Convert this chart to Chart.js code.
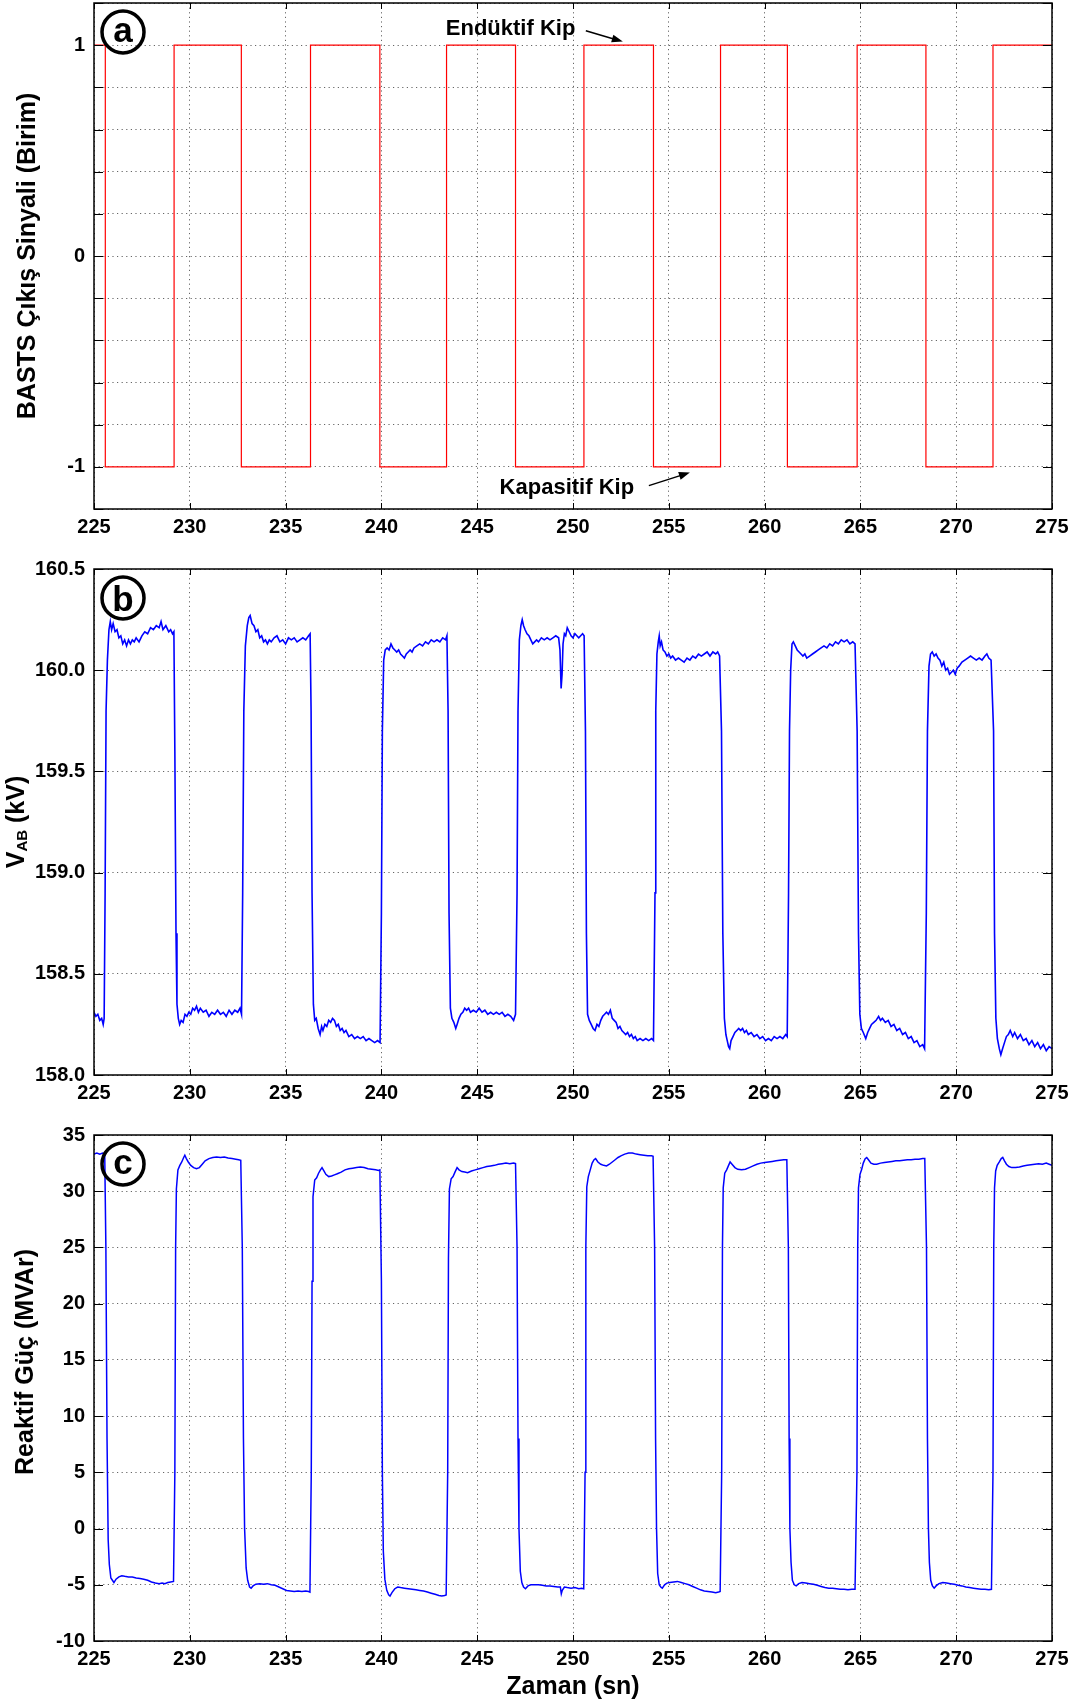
<!DOCTYPE html>
<html lang="tr">
<head>
<meta charset="utf-8">
<title>BASTS çıkış sinyali, V_AB ve reaktif güç</title>
<script src="https://cdn.jsdelivr.net/npm/chart.js@4.4.1/dist/chart.umd.min.js"></script>
<style>
  html, body { margin: 0; padding: 0; background: #fff; }
  #sayfa { position: relative; width: 1079px; height: 1708px; }
  #sayfa canvas { position: absolute; left: 0; }
</style>
</head>
<body>
<div id="sayfa">
  <canvas id="grafikA" width="1079" height="545" style="top:0px"></canvas>
  <canvas id="grafikB" width="1079" height="565" style="top:545px"></canvas>
  <canvas id="grafikC" width="1079" height="598" style="top:1110px"></canvas>
</div>
<script>
// BASTS kip anahtarlama anları (sn) ve her andan itibaren geçerli seviye
const kipZamanlari = [225, 225.59, 229.18, 232.69, 236.30, 239.92, 243.40, 247.00,
  250.57, 254.20, 257.70, 261.19, 264.83, 268.42, 271.92, 275];
const kipSeviyeleri = [1, -1, 1, -1, 1, -1, 1, -1, 1, -1, 1, -1, 1, -1, 1, 1];

// V_AB gerilimi (kV)
const zamanV = [
  225.00, 225.10, 225.20, 225.30, 225.40, 225.48, 225.53,
  225.58, 225.63, 225.70, 225.78, 225.85, 225.92, 226.00, 226.10, 226.20, 226.30, 226.40, 226.50, 226.60, 226.70, 226.80, 226.90, 227.00, 227.10, 227.20, 227.35, 227.50, 227.65, 227.80, 227.95, 228.10, 228.25, 228.40, 228.50, 228.60, 228.75, 228.90, 229.00, 229.10, 229.17,
  229.22, 229.28, 229.33, 229.40, 229.47, 229.55, 229.65, 229.75, 229.85, 229.95, 230.05, 230.15, 230.25, 230.35, 230.45, 230.55, 230.70, 230.85, 231.00, 231.15, 231.30, 231.45, 231.60, 231.75, 231.90, 232.05, 232.20, 232.35, 232.50, 232.62, 232.70,
  232.76, 232.82, 232.90, 233.00, 233.08, 233.15, 233.25, 233.35, 233.45, 233.55, 233.65, 233.75, 233.85, 233.95, 234.05, 234.15, 234.25, 234.40, 234.55, 234.70, 234.85, 235.00, 235.15, 235.30, 235.45, 235.60, 235.75, 235.90, 236.05, 236.20, 236.28,
  236.33, 236.38, 236.45, 236.52, 236.60, 236.70, 236.80, 236.88, 236.95, 237.05, 237.15, 237.25, 237.35, 237.45, 237.55, 237.65, 237.75, 237.85, 237.95, 238.05, 238.15, 238.30, 238.45, 238.60, 238.75, 238.90, 239.05, 239.20, 239.35, 239.50, 239.65, 239.80, 239.93,
  240.00, 240.05, 240.12, 240.20, 240.30, 240.40, 240.50, 240.60, 240.70, 240.80, 240.90, 241.00, 241.10, 241.20, 241.30, 241.40, 241.50, 241.60, 241.70, 241.85, 242.00, 242.15, 242.30, 242.45, 242.60, 242.75, 242.90, 243.05, 243.20, 243.35, 243.42,
  243.48, 243.53, 243.60, 243.68, 243.78, 243.88, 243.95, 244.05, 244.15, 244.25, 244.35, 244.45, 244.55, 244.65, 244.80, 244.95, 245.10, 245.25, 245.40, 245.55, 245.70, 245.85, 246.00, 246.15, 246.30, 246.45, 246.60, 246.75, 246.90, 247.00,
  247.08, 247.13, 247.20, 247.28, 247.35, 247.42, 247.50, 247.60, 247.70, 247.80, 247.90, 248.00, 248.10, 248.20, 248.35, 248.50, 248.65, 248.80, 248.95, 249.10, 249.25, 249.32, 249.38, 249.43, 249.48, 249.55, 249.62, 249.70, 249.80, 249.90, 250.00, 250.10, 250.20, 250.30, 250.40, 250.50, 250.58,
  250.65, 250.70, 250.76, 250.85, 250.95, 251.05, 251.15, 251.25, 251.35, 251.45, 251.55, 251.65, 251.75, 251.85, 251.95, 252.05, 252.15, 252.25, 252.35, 252.45, 252.55, 252.65, 252.75, 252.85, 252.95, 253.05, 253.15, 253.25, 253.35, 253.50, 253.65, 253.80, 253.95, 254.10, 254.20,
  254.28, 254.32, 254.38, 254.45, 254.50, 254.55, 254.62, 254.70, 254.80, 254.90, 255.00, 255.10, 255.20, 255.35, 255.50, 255.65, 255.80, 255.95, 256.10, 256.25, 256.40, 256.55, 256.70, 256.85, 257.00, 257.15, 257.30, 257.45, 257.55, 257.65,
  257.75, 257.82, 257.90, 257.98, 258.05, 258.12, 258.18, 258.25, 258.35, 258.45, 258.55, 258.65, 258.75, 258.85, 258.95, 259.05, 259.15, 259.30, 259.45, 259.60, 259.75, 259.90, 260.05, 260.20, 260.35, 260.50, 260.65, 260.80, 260.95, 261.10, 261.18,
  261.25, 261.30, 261.36, 261.43, 261.50, 261.60, 261.70, 261.80, 261.90, 262.00, 262.10, 262.20, 262.35, 262.50, 262.65, 262.80, 262.95, 263.10, 263.25, 263.40, 263.55, 263.70, 263.85, 264.00, 264.15, 264.30, 264.45, 264.60, 264.72,
  264.83, 264.90, 264.97, 265.05, 265.15, 265.28, 265.38, 265.48, 265.58, 265.70, 265.82, 265.95, 266.05, 266.15, 266.30, 266.45, 266.60, 266.75, 266.90, 267.05, 267.20, 267.35, 267.50, 267.65, 267.80, 267.95, 268.10, 268.25, 268.35,
  268.44, 268.50, 268.58, 268.66, 268.75, 268.85, 268.95, 269.05, 269.15, 269.25, 269.35, 269.45, 269.55, 269.65, 269.75, 269.85, 269.95, 270.05, 270.15, 270.30, 270.45, 270.60, 270.75, 270.90, 271.05, 271.20, 271.35, 271.50, 271.60, 271.70, 271.82,
  271.95, 272.00, 272.07, 272.15, 272.25, 272.33, 272.42, 272.52, 272.62, 272.72, 272.82, 272.95, 273.05, 273.20, 273.35, 273.50, 273.65, 273.80, 273.95, 274.10, 274.25, 274.40, 274.55, 274.70, 274.85, 275.00
];
const gerilimAB = [
  158.31, 158.29, 158.30, 158.27, 158.28, 158.25, 158.28,
  158.9, 159.8, 160.05, 160.20, 160.24, 160.20, 160.23, 160.19, 160.20, 160.16, 160.17, 160.13, 160.15, 160.12, 160.15, 160.13, 160.15, 160.14, 160.16, 160.14, 160.17, 160.19, 160.18, 160.21, 160.20, 160.22, 160.21, 160.24, 160.20, 160.22, 160.19, 160.20, 160.18, 160.19,
  159.6, 158.7, 158.35, 158.28, 158.25, 158.27, 158.26, 158.30, 158.29, 158.31, 158.30, 158.33, 158.32, 158.34, 158.31, 158.33, 158.31, 158.32, 158.29, 158.31, 158.30, 158.32, 158.30, 158.31, 158.29, 158.32, 158.30, 158.32, 158.31, 158.33, 158.30,
  158.9, 159.8, 160.12, 160.22, 160.26, 160.27, 160.23, 160.22, 160.19, 160.20, 160.16, 160.17, 160.14, 160.15, 160.13, 160.15, 160.14, 160.16, 160.17, 160.14, 160.15, 160.13, 160.16, 160.15, 160.16, 160.14, 160.15, 160.16, 160.15, 160.17, 160.18,
  159.8, 158.9, 158.35, 158.27, 158.28, 158.23, 158.20, 158.24, 158.22, 158.25, 158.24, 158.27, 158.26, 158.28, 158.27, 158.24, 158.25, 158.22, 158.23, 158.21, 158.22, 158.19, 158.20, 158.18, 158.19, 158.18, 158.19, 158.17, 158.18, 158.17, 158.16, 158.17, 158.16,
  158.8, 159.7, 160.05, 160.10, 160.11, 160.10, 160.13, 160.11, 160.10, 160.09, 160.10, 160.08, 160.07, 160.06, 160.08, 160.09, 160.10, 160.09, 160.11, 160.12, 160.13, 160.12, 160.14, 160.13, 160.15, 160.14, 160.15, 160.14, 160.16, 160.15, 160.17,
  159.8, 158.8, 158.33, 158.28, 158.26, 158.23, 158.25, 158.28, 158.30, 158.31, 158.33, 158.32, 158.33, 158.31, 158.32, 158.31, 158.33, 158.31, 158.32, 158.30, 158.31, 158.30, 158.31, 158.30, 158.31, 158.29, 158.30, 158.29, 158.27, 158.30,
  158.9, 159.8, 160.15, 160.22, 160.25, 160.22, 160.20, 160.18, 160.17, 160.15, 160.13, 160.14, 160.15, 160.14, 160.16, 160.15, 160.16, 160.15, 160.16, 160.17, 160.16, 160.10, 159.91, 159.98, 160.13, 160.18, 160.17, 160.21, 160.19, 160.17, 160.16, 160.18, 160.17, 160.16, 160.17, 160.18, 160.17,
  159.7, 158.7, 158.30, 158.27, 158.25, 158.23, 158.22, 158.25, 158.24, 158.27, 158.29, 158.30, 158.31, 158.30, 158.32, 158.28, 158.27, 158.26, 158.23, 158.24, 158.22, 158.21, 158.20, 158.21, 158.19, 158.20, 158.18, 158.19, 158.17, 158.18, 158.17, 158.18, 158.17, 158.18, 158.17,
  158.9, 159.8, 160.08, 160.14, 160.17, 160.12, 160.14, 160.10, 160.09, 160.07, 160.08, 160.06, 160.07, 160.05, 160.06, 160.05, 160.04, 160.06, 160.05, 160.07, 160.06, 160.08, 160.07, 160.08, 160.09, 160.07, 160.09, 160.08, 160.09, 160.07,
  159.7, 158.7, 158.28, 158.20, 158.17, 158.14, 158.13, 158.17, 158.19, 158.21, 158.22, 158.23, 158.22, 158.23, 158.21, 158.22, 158.20, 158.21, 158.19, 158.20, 158.18, 158.19, 158.17, 158.18, 158.17, 158.19, 158.18, 158.19, 158.18, 158.20, 158.19,
  158.9, 159.7, 160.0, 160.13, 160.14, 160.12, 160.10, 160.09, 160.08, 160.07, 160.08, 160.06, 160.07, 160.08, 160.09, 160.10, 160.11, 160.12, 160.11, 160.13, 160.12, 160.14, 160.13, 160.15, 160.14, 160.15, 160.13, 160.14, 160.13,
  159.7, 158.7, 158.30, 158.23, 158.21, 158.18, 158.21, 158.23, 158.25, 158.26, 158.27, 158.29, 158.27, 158.28, 158.26, 158.27, 158.24, 158.25, 158.22, 158.23, 158.20, 158.21, 158.18, 158.19, 158.16, 158.17, 158.14, 158.15, 158.13,
  158.8, 159.7, 160.02, 160.08, 160.09, 160.07, 160.08, 160.06, 160.05, 160.02, 160.04, 160.00, 160.01, 159.98, 159.99, 160.00, 159.98, 160.01, 160.02, 160.04, 160.05, 160.06, 160.07, 160.06, 160.05, 160.06, 160.05, 160.07, 160.08, 160.06, 160.05,
  159.7, 158.7, 158.28, 158.18, 158.13, 158.10, 158.13, 158.16, 158.19, 158.20, 158.22, 158.19, 158.21, 158.18, 158.20, 158.17, 158.18, 158.15, 158.17, 158.14, 158.16, 158.13, 158.15, 158.12, 158.14, 158.13
];

// Reaktif güç (MVAr)
const zamanQ = [
  225.00, 225.15, 225.30, 225.45, 225.56,
  225.62, 225.68, 225.74, 225.80, 225.88, 225.96, 226.04, 226.15, 226.30, 226.45, 226.60, 226.80, 227.00, 227.20, 227.40, 227.60, 227.80, 228.00, 228.20, 228.40, 228.55, 228.70, 228.85, 229.00, 229.15,
  229.22, 229.26, 229.30, 229.38, 229.48, 229.58, 229.68, 229.74, 229.82, 229.92, 230.05, 230.20, 230.35, 230.50, 230.65, 230.80, 231.00, 231.20, 231.40, 231.60, 231.80, 232.00, 232.20, 232.40, 232.55, 232.66,
  232.74, 232.80, 232.86, 232.94, 233.02, 233.12, 233.20, 233.30, 233.45, 233.65, 233.85, 234.05, 234.25, 234.45, 234.65, 234.85, 235.05, 235.25, 235.45, 235.65, 235.85, 236.05, 236.20, 236.27,
  236.34, 236.38, 236.43, 236.52, 236.62, 236.72, 236.82, 236.90, 237.00, 237.10, 237.25, 237.40, 237.55, 237.70, 237.90, 238.10, 238.30, 238.50, 238.70, 238.90, 239.10, 239.30, 239.50, 239.70, 239.85, 239.92,
  240.00, 240.05, 240.10, 240.18, 240.28, 240.38, 240.45, 240.55, 240.70, 240.85, 241.00, 241.20, 241.40, 241.60, 241.80, 242.00, 242.20, 242.40, 242.60, 242.80, 243.00, 243.15, 243.30, 243.38,
  243.46, 243.50, 243.55, 243.64, 243.74, 243.84, 243.95, 244.05, 244.20, 244.35, 244.50, 244.70, 244.90, 245.10, 245.30, 245.50, 245.70, 245.90, 246.10, 246.30, 246.50, 246.70, 246.90, 247.00,
  247.08, 247.13, 247.18, 247.25, 247.33, 247.42, 247.52, 247.65, 247.80, 248.00, 248.20, 248.40, 248.60, 248.80, 249.00, 249.20, 249.34, 249.39, 249.44, 249.55, 249.70, 249.90, 250.10, 250.30, 250.45, 250.56,
  250.63, 250.67, 250.72, 250.80, 250.90, 251.00, 251.10, 251.18, 251.30, 251.45, 251.60, 251.75, 251.90, 252.05, 252.20, 252.35, 252.50, 252.70, 252.90, 253.10, 253.30, 253.50, 253.70, 253.90, 254.10, 254.18,
  254.26, 254.31, 254.36, 254.42, 254.50, 254.58, 254.66, 254.78, 254.90, 255.05, 255.25, 255.45, 255.65, 255.85, 256.05, 256.25, 256.45, 256.65, 256.85, 257.05, 257.25, 257.45, 257.60, 257.68,
  257.76, 257.80, 257.84, 257.92, 258.02, 258.12, 258.20, 258.30, 258.45, 258.60, 258.80, 259.00, 259.20, 259.40, 259.60, 259.80, 260.00, 260.20, 260.40, 260.60, 260.80, 261.00, 261.16,
  261.24, 261.28, 261.32, 261.38, 261.45, 261.55, 261.65, 261.78, 261.95, 262.15, 262.35, 262.55, 262.75, 262.95, 263.15, 263.35, 263.55, 263.75, 263.95, 264.15, 264.35, 264.55, 264.72,
  264.82, 264.86, 264.90, 264.98, 265.06, 265.15, 265.25, 265.33, 265.42, 265.55, 265.70, 265.85, 266.05, 266.25, 266.45, 266.65, 266.85, 267.05, 267.25, 267.45, 267.65, 267.85, 268.05, 268.25, 268.36,
  268.45, 268.50, 268.55, 268.60, 268.67, 268.76, 268.85, 268.95, 269.10, 269.30, 269.50, 269.70, 269.90, 270.10, 270.30, 270.50, 270.70, 270.90, 271.10, 271.30, 271.50, 271.70, 271.84,
  271.92, 271.96, 272.00, 272.06, 272.14, 272.25, 272.35, 272.43, 272.52, 272.62, 272.75, 272.90, 273.10, 273.30, 273.50, 273.70, 273.90, 274.10, 274.30, 274.50, 274.70, 274.85, 275.00
];
const reaktifGuc = [
  33.3, 33.4, 33.3, 33.4, 33.3,
  25, 8, -1, -3.2, -4.4, -4.6, -4.8, -4.5, -4.3, -4.2, -4.25, -4.3, -4.3, -4.4, -4.45, -4.5, -4.6, -4.75, -4.85, -4.9, -4.85, -4.9, -4.8, -4.75, -4.7,
  5, 25, 30.2, 31.9, 32.3, 32.6, 33.0, 33.2, 32.9, 32.6, 32.3, 32.1, 32.0, 32.1, 32.4, 32.7, 32.9, 33.0, 33.05, 33.0, 33.05, 32.95, 32.9, 32.85, 32.8, 32.75,
  25, 8, 0, -3.5, -4.6, -5.2, -5.3, -5.1, -4.95, -4.9, -4.95, -4.9, -5.0, -5.05, -5.2, -5.35, -5.5, -5.55, -5.6, -5.55, -5.6, -5.55, -5.6, -5.65,
  5, 22, 29.5, 31.0, 31.2, 31.6, 31.9, 32.1, 31.8, 31.5, 31.3, 31.35, 31.45, 31.55, 31.7, 31.9, 32.0, 32.05, 32.1, 32.15, 32.1, 32.0, 31.95, 31.9, 31.85, 31.9,
  22, 5, -2, -4.5, -5.5, -5.9, -6.0, -5.7, -5.35, -5.2, -5.25, -5.3, -5.35, -5.4, -5.45, -5.5, -5.55, -5.65, -5.75, -5.85, -5.95, -6.0, -5.95, -5.9,
  5, 24, 30.2, 31.1, 31.3, 31.7, 32.1, 31.9, 31.75, 31.7, 31.65, 31.8, 31.9, 32.0, 32.1, 32.2, 32.25, 32.3, 32.4, 32.45, 32.5, 32.45, 32.5, 32.45,
  25, 8, 0, -3.8, -4.8, -5.2, -5.35, -5.1, -5.0, -5.0, -5.0, -5.05, -5.1, -5.1, -5.15, -5.2, -5.2, -5.8, -5.5, -5.2, -5.25, -5.3, -5.25, -5.35, -5.3, -5.35,
  5, 25, 30.4, 31.3, 31.9, 32.5, 32.8, 32.9, 32.6, 32.4, 32.3, 32.25, 32.4, 32.6, 32.8, 33.0, 33.15, 33.3, 33.4, 33.4, 33.3, 33.25, 33.2, 33.15, 33.15, 33.1,
  25, 8, 0, -4, -5.0, -5.2, -5.3, -5.0, -4.85, -4.8, -4.75, -4.7, -4.8, -4.9, -5.0, -5.15, -5.3, -5.45, -5.55, -5.6, -5.65, -5.7, -5.65, -5.6,
  5, 25, 30.3, 31.6, 31.9, 32.3, 32.6, 32.4, 32.1, 31.95, 31.9, 31.95, 32.1, 32.25, 32.4, 32.5, 32.55, 32.6, 32.65, 32.7, 32.75, 32.8, 32.8,
  25, 8, 0, -3, -4.6, -5.0, -5.1, -4.9, -4.8, -4.85, -4.9, -4.95, -5.05, -5.15, -5.25, -5.3, -5.3, -5.35, -5.4, -5.4, -5.45, -5.4, -5.4,
  5, 25, 30.3, 31.5, 31.9, 32.5, 32.9, 33.0, 32.8, 32.5, 32.4, 32.4, 32.5, 32.55, 32.6, 32.65, 32.7, 32.7, 32.75, 32.8, 32.8, 32.85, 32.85, 32.9, 32.9,
  25, 8, 0, -3, -4.6, -5.1, -5.3, -5.1, -4.9, -4.8, -4.85, -4.9, -4.95, -5.05, -5.1, -5.2, -5.25, -5.3, -5.35, -5.4, -5.4, -5.45, -5.4,
  5, 25, 30.3, 31.8, 32.3, 32.6, 32.9, 33.0, 32.7, 32.4, 32.2, 32.1, 32.1, 32.15, 32.25, 32.3, 32.35, 32.4, 32.45, 32.4, 32.5, 32.4, 32.3
];

const yaziAilesi = '"Liberation Sans", Arial, Helvetica, sans-serif';
const etiketFontu = { family: yaziAilesi, size: 20, weight: 'bold' };
const izgaraRengi = 'rgba(0,0,0,0.6)';

function noktalar(xs, ys) {
  const n = Math.min(xs.length, ys.length);
  const out = [];
  for (let i = 0; i < n; i++) out.push({ x: xs[i], y: ys[i] });
  return out;
}

function xEkseni(yukseklik) {
  return {
    type: 'linear', min: 225, max: 275,
    ticks: { stepSize: 5, color: '#000', font: etiketFontu, padding: 6, maxRotation: 0, autoSkip: false },
    grid: { color: izgaraRengi, lineWidth: 1, drawTicks: false },
    border: { display: false, dash: [1.2, 3.4] },
    afterFit(s) { s.height = yukseklik; s.paddingLeft = 0; s.paddingRight = 0; }
  };
}

function yEkseni(min, max, adim, bicim) {
  return {
    type: 'linear', min: min, max: max,
    ticks: { stepSize: adim, color: '#000', font: etiketFontu, padding: 9, autoSkip: false, callback: bicim },
    grid: { color: izgaraRengi, lineWidth: 1, drawTicks: false },
    border: { display: false, dash: [1.2, 3.4] },
    afterFit(s) { s.width = 94; s.paddingTop = 0; s.paddingBottom = 0; }
  };
}

// çerçeve, içe dönük çentikler, harf, başlıklar ve notlar
const suslemeler = {
  grafikA: {
    harf: 'a', baslikX: 35, baslikKayma: 0,
    baslik: [{ metin: 'BASTS Çıkış Sinyali (Birim)' }],
    notlar: [
      { metin: 'Endüktif Kip', x: 243.36, y: 1.079, okBas: [250.67, 1.068], okUc: [252.6, 1.017] },
      { metin: 'Kapasitif Kip', x: 246.17, y: -1.098, okBas: [253.96, -1.089], okUc: [256.1, -1.027] }
    ]
  },
  grafikB: {
    harf: 'b', baslikX: 24, baslikKayma: 0,
    baslik: [{ metin: 'V' }, { metin: 'AB', alt: true }, { metin: ' (kV)' }]
  },
  grafikC: {
    harf: 'c', baslikX: 33, baslikKayma: -26,
    baslik: [{ metin: 'Reaktif Güç (MVAr)' }],
    xBaslik: 'Zaman (sn)', xBaslikY: 46
  }
};

function okCiz(ctx, x1, y1, x2, y2) {
  const a = Math.atan2(y2 - y1, x2 - x1), L = 11, W = 4;
  ctx.beginPath();
  ctx.moveTo(x1, y1);
  ctx.lineTo(x2 - L * 0.7 * Math.cos(a), y2 - L * 0.7 * Math.sin(a));
  ctx.stroke();
  ctx.beginPath();
  ctx.moveTo(x2, y2);
  ctx.lineTo(x2 - L * Math.cos(a) + W * Math.sin(a), y2 - L * Math.sin(a) - W * Math.cos(a));
  ctx.lineTo(x2 - L * Math.cos(a) - W * Math.sin(a), y2 - L * Math.sin(a) + W * Math.cos(a));
  ctx.closePath();
  ctx.fill();
}

const susleme = {
  id: 'susleme',
  afterDraw(chart) {
    const o = suslemeler[chart.canvas.id];
    const { ctx, chartArea: a, scales } = chart;
    const sx = scales.x, sy = scales.y;
    ctx.save();
    ctx.strokeStyle = '#000';
    ctx.fillStyle = '#000';

    ctx.lineWidth = 1.5;
    ctx.strokeRect(a.left, a.top, a.right - a.left, a.bottom - a.top);

    ctx.lineWidth = 1;
    ctx.beginPath();
    sy.ticks.forEach(t => {
      const py = Math.round(sy.getPixelForValue(t.value)) + 0.5;
      ctx.moveTo(a.left, py); ctx.lineTo(a.left + 9, py);
      ctx.moveTo(a.right, py); ctx.lineTo(a.right - 9, py);
    });
    sx.ticks.forEach(t => {
      const px = Math.round(sx.getPixelForValue(t.value)) + 0.5;
      ctx.moveTo(px, a.bottom); ctx.lineTo(px, a.bottom - 6);
      ctx.moveTo(px, a.top); ctx.lineTo(px, a.top + 6);
    });
    ctx.stroke();

    // daire içindeki panel harfi
    const cx = a.left + 29, cy = a.top + 29;
    ctx.lineWidth = 3.5;
    ctx.beginPath();
    ctx.arc(cx, cy, 21, 0, Math.PI * 2);
    ctx.stroke();
    ctx.font = 'bold 35px ' + yaziAilesi;
    ctx.textAlign = 'center';
    ctx.textBaseline = 'alphabetic';
    const m = ctx.measureText(o.harf);
    ctx.fillText(o.harf, cx, cy + (m.actualBoundingBoxAscent - m.actualBoundingBoxDescent) / 2);

    // y ekseni başlığı (dikey)
    const parcalar = o.baslik.map(p => ({
      ...p, font: (p.alt ? 'bold 15px ' : 'bold 25px ') + yaziAilesi
    }));
    let toplam = 0;
    parcalar.forEach(p => { ctx.font = p.font; p.w = ctx.measureText(p.metin).width; toplam += p.w; });
    ctx.save();
    ctx.translate(o.baslikX, (a.top + a.bottom) / 2 + o.baslikKayma);
    ctx.rotate(-Math.PI / 2);
    ctx.textAlign = 'left';
    let konum = -toplam / 2;
    parcalar.forEach(p => {
      ctx.font = p.font;
      ctx.fillText(p.metin, konum, p.alt ? 3 : 0);
      konum += p.w;
    });
    ctx.restore();

    if (o.xBaslik) {
      ctx.font = 'bold 25px ' + yaziAilesi;
      ctx.textAlign = 'center';
      ctx.textBaseline = 'middle';
      ctx.fillText(o.xBaslik, (a.left + a.right) / 2, a.bottom + o.xBaslikY);
    }

    (o.notlar || []).forEach(n => {
      ctx.font = 'bold 22px ' + yaziAilesi;
      ctx.textAlign = 'left';
      ctx.textBaseline = 'middle';
      ctx.fillText(n.metin, sx.getPixelForValue(n.x), sy.getPixelForValue(n.y));
      ctx.lineWidth = 1.5;
      okCiz(ctx,
        sx.getPixelForValue(n.okBas[0]), sy.getPixelForValue(n.okBas[1]),
        sx.getPixelForValue(n.okUc[0]), sy.getPixelForValue(n.okUc[1]));
    });

    ctx.restore();
  }
};

function grafikKur(id, veri, renk, kalinlik, yEks, ustBosluk, xYukseklik, kademe) {
  return new Chart(document.getElementById(id), {
    type: 'line',
    data: {
      datasets: [{
        data: veri,
        borderColor: renk,
        borderWidth: kalinlik,
        pointRadius: 0,
        fill: false,
        tension: 0,
        stepped: kademe || false
      }]
    },
    options: {
      responsive: false,
      animation: false,
      events: [],
      layout: { padding: { top: ustBosluk, right: 27, bottom: 0, left: 0 } },
      plugins: { legend: { display: false }, tooltip: { enabled: false } },
      scales: { x: xEkseni(xYukseklik), y: yEks }
    },
    plugins: [susleme]
  });
}

const tamSayiEtiket = v => {
  const r = Math.round(v * 10) / 10;
  return (r === 1 || r === 0 || r === -1) ? String(r) : '';
};

grafikKur('grafikA', noktalar(kipZamanlari, kipSeviyeleri), '#ff0000', 1.2,
  yEkseni(-1.2, 1.2, 0.2, tamSayiEtiket), 3, 36, 'before');
grafikKur('grafikB', noktalar(zamanV, gerilimAB), '#0000ff', 1.6,
  yEkseni(158, 160.5, 0.5, v => v.toFixed(1)), 24, 35);
grafikKur('grafikC', noktalar(zamanQ, reaktifGuc), '#0000ff', 1.5,
  yEkseni(-10, 35, 5, v => String(v)), 25, 67);
</script>
</body>
</html>
